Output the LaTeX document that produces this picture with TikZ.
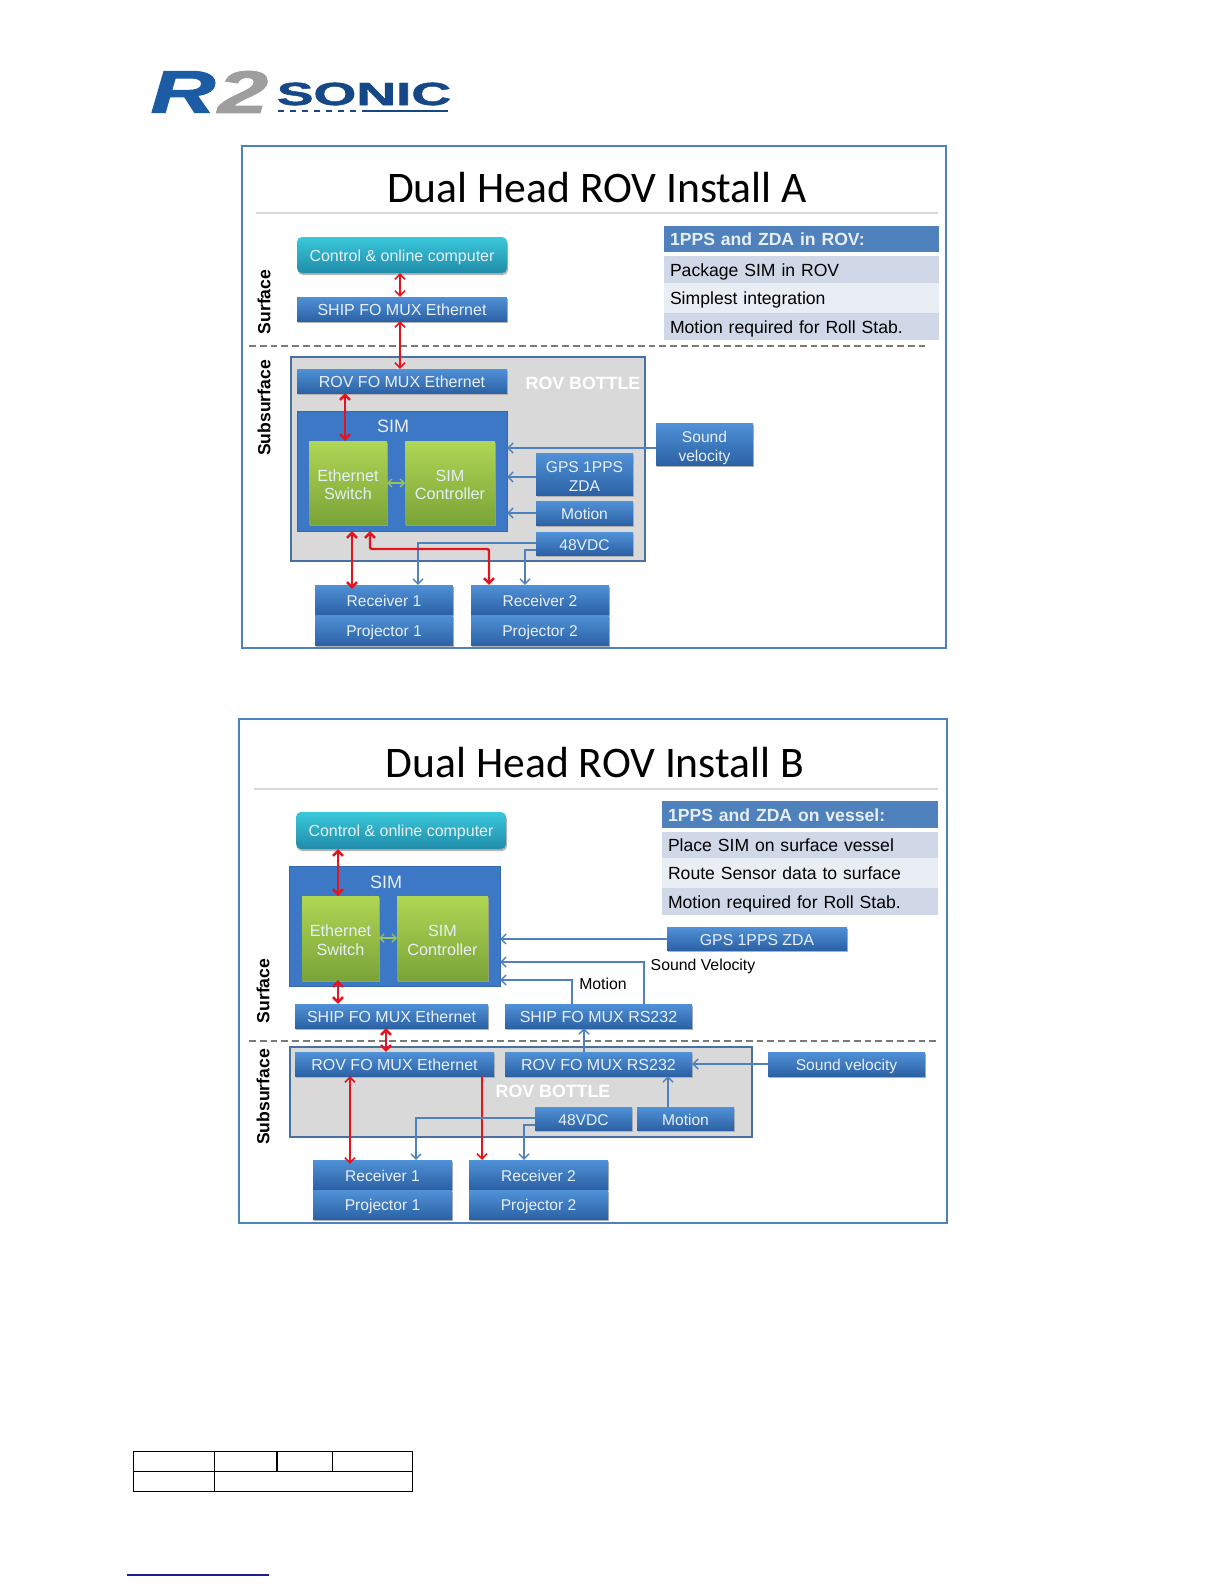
\documentclass[tikz,border=0pt]{standalone}
\usepackage{fontspec}
\setmainfont{Liberation Sans}
\newfontfamily\titlefont{Carlito}
\usetikzlibrary{calc, arrows.meta, shadows}
\definecolor{redline}{HTML}{E5141C}
\definecolor{blueline}{HTML}{4F81BD}
\definecolor{greenline}{HTML}{9CC25A}
\definecolor{hdrblue}{HTML}{4F81BD}
\definecolor{rowdark}{HTML}{D0D8E8}
\definecolor{rowlight}{HTML}{E9EDF4}
\definecolor{boxtext}{HTML}{E8EEF8}
\definecolor{blutop}{HTML}{5091D7}
\definecolor{blumid}{HTML}{3A76BE}
\definecolor{blubot}{HTML}{2C62A5}
\definecolor{tealtop}{HTML}{3AC8DA}
\definecolor{tealbot}{HTML}{208CAA}
\definecolor{grntop}{HTML}{B0D654}
\definecolor{grnbot}{HTML}{7AA438}
\definecolor{simfill}{HTML}{3C78C6}
\definecolor{simedge}{HTML}{3568AE}
\definecolor{botedge}{HTML}{4870A0}
\definecolor{logoblue}{HTML}{1C5CA5}
\definecolor{logonavy}{HTML}{164887}
\definecolor{footblue}{HTML}{1E1E96}
\newcommand{\boxstrut}{\rule[-1.6pt]{0pt}{9.7pt}}
\newcommand{\lowstrut}{\rule[-1.6pt]{0pt}{1.6pt}}
\newcommand{\twostrut}{\rule{0pt}{9.6pt}}
\newcommand{\rowstrut}{\rule[-2.2pt]{0pt}{11.2pt}}

\begin{document}
\begin{tikzpicture}[x=0.5pt, y=-0.5pt, inner sep=0pt, outer sep=0pt,
  strutted/.style={execute at begin node=\boxstrut, execute at end node=\lowstrut},
  blubox/.style={top color=blutop, middle color=blumid, bottom color=blubot, strutted,
    general shadow={fill=black!30, shadow xshift=0.5pt, shadow yshift=-1pt},
    text=boxtext, align=center},
  tealbox/.style={rounded corners=2.5pt, top color=tealtop, bottom color=tealbot, strutted,
    general shadow={fill=black!30, shadow xshift=0.5pt, shadow yshift=-1pt},
    text=boxtext, font=\fontsize{8}{9.4}\selectfont},
  grnbox/.style={top color=grntop, bottom color=grnbot, strutted,
    general shadow={fill=black!40, shadow xshift=0.6pt, shadow yshift=-0.8pt},
    text=boxtext, font=\fontsize{8.1}{9.4}\selectfont, align=center},
  simbox/.style={fill=simfill, draw=simedge, line width=0.5pt},
  bottle/.style={fill=black!15, draw=botedge, line width=0.7pt},
  frame/.style={draw=blueline, line width=0.6pt},
  rulegray/.style={draw=black!15, line width=0.7pt},
  sealine/.style={draw=black!52, line width=0.7pt, dash pattern=on 3.4pt off 2pt},
  sidelabel/.style={rotate=90, font=\fontsize{8.8}{10}\bfseries\selectfont, text=black},
  bottlelabel/.style={font=\fontsize{8.9}{10}\bfseries\selectfont, text=white},
  titletext/.style={font=\titlefont\fontsize{21.8}{24}\selectfont, text=black},
  blacktext/.style={strutted, font=\fontsize{7.9}{9.4}\selectfont, text=black},
  tabrow/.style={text=black, font=\fontsize{8.8}{10}\selectfont, align=left,
    execute at begin node=\rowstrut},
  redarr/.style={draw=redline, line width=0.8pt, {Straight Barb[length=2.6pt,width=5pt]}-{Straight Barb[length=2.6pt,width=5pt]}},
  redfat/.style={redarr, line width=1.2pt},
  redone/.style={draw=redline, line width=0.8pt, -{Straight Barb[length=2.6pt,width=5pt]}},
  bluarr/.style={draw=blueline, line width=0.7pt, -{Straight Barb[length=2.6pt,width=5pt]}},
  grnarr/.style={draw=greenline, line width=0.7pt, {Straight Barb[length=2pt,width=4pt]}-{Straight Barb[length=2pt,width=4pt]}},
  logotext/.style={font=\fontsize{#1}{#1}\bfseries\addfontfeatures{FakeBold=1.5}},
]
  \useasboundingbox (0,0) rectangle (1224,1584);
  \fill[white] (0,0) rectangle (1224,1584);

  % logo
  \node[text=logoblue, logotext=30] (logoR) at (183,92) {\scalebox{1.5}[1]{\itshape R}};
  \node[text=black!38, logotext=30] (logoT) at (243,92) {\scalebox{1.5}[1]{\itshape 2}};
  \node[text=logonavy, logotext=16] (logoS) at (364,94) {\scalebox{1.72}[1]{SONIC}};
  \coordinate (logoA) at (278,111);
  \coordinate (logoB) at (363,111);
  \coordinate (logoC) at (448,111);
  \draw[logonavy, line width=0.6pt, dash pattern=on 3pt off 3pt] (logoA) -- (logoB);
  \draw[logonavy, line width=0.8pt] (logoB) -- (logoC);

  % panel A
  \draw[frame] (242,146) rectangle (946,648);
  \node[titletext] (titleA) at (597,188) {Dual Head ROV Install A};
  \coordinate (ruleAl) at (256,213);
  \coordinate (ruleAr) at (938,213);
  \draw[rulegray] (ruleAl) -- (ruleAr);
  \coordinate (seaAl) at (249,346);
  \coordinate (seaAr) at (928,346);
  \draw[sealine] (seaAl) -- (seaAr);
  \node[sidelabel] (surfA) at (264,302) {Surface};
  \node[sidelabel] (subsA) at (264,408) {Subsurface};
  \draw[bottle] (291,357) rectangle (645,561);
  \node[bottlelabel] (bottleA) at (583,383) {ROV BOTTLE};
  \node[simbox, minimum width=105pt, minimum height=60pt] (simA) at (402,471) {};
  \node[text=boxtext, font=\fontsize{9}{10}\selectfont] (simtxtA) at (393,426) {SIM};

  % panel B
  \draw[frame] (239,719) rectangle (947,1223);
  \node[titletext] (titleB) at (595,763) {Dual Head ROV Install B};
  \coordinate (ruleBl) at (254,789);
  \coordinate (ruleBr) at (938,789);
  \draw[rulegray] (ruleBl) -- (ruleBr);
  \coordinate (seaBl) at (249,1041);
  \coordinate (seaBr) at (938,1041);
  \node[sidelabel] (surfB) at (263,991) {Surface};
  \node[sidelabel] (subsB) at (263,1097) {Subsurface};
  \draw[bottle] (290,1047) rectangle (752,1137);
  \draw[sealine] (seaBl) -- (seaBr);
  \node[bottlelabel] (bottleB) at (553,1091) {ROV BOTTLE};
  \node[simbox, minimum width=105.5pt, minimum height=60pt] (simB) at (394.5,926) {};
  \node[text=boxtext, font=\fontsize{9}{10}\selectfont] (simtxtB) at (386,882) {SIM};

  % blue boxes: name / left / top / right / bottom / size / text
  \foreach \nm/\xa/\ya/\xb/\yb/\fs/\txt in {
    shipA/297/297/507/321/8/{SHIP FO MUX Ethernet},
    rovA/297/369/507/393/8/{ROV FO MUX Ethernet},
    gpsA/536/453/633/495/7.8/{\twostrut GPS 1PPS\\ZDA},
    motA/536/501/633/525/7.8/{Motion},
    vdcA/536/532/633/555/7.8/{48VDC},
    soundA/656/423/753/465/7.8/{\twostrut Sound\\velocity},
    rcvAa/315/585/453/614/7.8/{Receiver 1},
    prjAa/315/615/453/645/7.8/{Projector 1},
    rcvAb/471/585/609/614/7.8/{Receiver 2},
    prjAb/471/615/609/645/7.8/{Projector 2},
    shipB/295/1004/488/1028/8/{SHIP FO MUX Ethernet},
    shipserB/505/1004/692/1028/8/{SHIP FO MUX RS232},
    rovB/295/1052/494/1076/8/{ROV FO MUX Ethernet},
    rovserB/505/1052/692/1076/8/{ROV FO MUX RS232},
    vdcB/535/1107/632/1130/7.8/{48VDC},
    motB/637/1107/734/1130/7.8/{Motion},
    soundB/768/1052/925/1076/7.8/{Sound velocity},
    gpsB/667/927/847/950/7.9/{GPS 1PPS ZDA},
    rcvBa/313/1160/452/1189/7.8/{Receiver 1},
    prjBa/313/1190/452/1219/7.8/{Projector 1},
    rcvBb/469/1160/608/1189/7.8/{Receiver 2},
    prjBb/469/1190/608/1219/7.8/{Projector 2}}
    \node[blubox, font=\fontsize{\fs}{9.4}\selectfont, minimum width={(\xb-\xa)*0.5pt}, minimum height={(\yb-\ya)*0.5pt}] (\nm) at ({(\xa+\xb)/2},{(\ya+\yb)/2}) {\txt};

  \node[tealbox, minimum width=105pt, minimum height=18pt] (ctlA) at (402,255) {Control \& online computer};
  \node[tealbox, minimum width=105pt, minimum height=18.5pt] (ctlB) at (401,830.5) {Control \& online computer};

  \foreach \nm/\xa/\xb/\ya/\yb/\txt in {
    ethA/309/387/441/524/{\twostrut Ethernet\\Switch},
    conA/405/495/441/524/{\twostrut SIM\\Controller},
    ethB/302/379/896/980/{\twostrut Ethernet\\Switch},
    conB/397/488/896/980/{\twostrut SIM\\Controller}}
    \node[grnbox, minimum width={(\xb-\xa)*0.5pt}, minimum height={(\yb-\ya)*0.5pt}] (\nm) at ({(\xa+\xb)/2},{(\ya+\yb)/2}) {\txt};

  % bullet tables
  \foreach \nm/\xa/\ya/\xb/\yb/\col/\txt in {
    hdrA/664/226/939/252/hdrblue/{\textcolor{boxtext}{\bfseries 1PPS and ZDA in ROV:}},
    rowAa/664/256/939/283/rowdark/{Package SIM in ROV},
    rowAb/664/283/939/313/rowlight/{Simplest integration},
    rowAc/664/313/939/340/rowdark/{Motion required for Roll Stab.},
    hdrB/662/801/938/828/hdrblue/{\textcolor{boxtext}{\bfseries 1PPS and ZDA on vessel:}},
    rowBa/662/832/938/858/rowdark/{Place SIM on surface vessel},
    rowBb/662/858/938/888/rowlight/{Route Sensor data to surface},
    rowBc/662/888/938/915/rowdark/{Motion required for Roll Stab.}}
    \node[tabrow, fill=\col, text width={(\xb-\xa)*0.5pt-6pt}, inner xsep=3pt, minimum height={(\yb-\ya)*0.5pt}] (\nm) at ({(\xa+\xb)/2},{(\ya+\yb)/2}) {\txt};

  \node[blacktext] (lblmot) at (603,983) {Motion};
  \node[blacktext] (lblsnd) at (703,964) {Sound Velocity};

  % connectors A
  \draw[redarr] (ctlA.south -| 400,0) -- (shipA.north -| 400,0);
  \draw[redarr] (shipA.south -| 400,0) -- (rovA.north -| 400,0);
  \draw[redfat] (rovA.south -| 345,0) -- (ethA.north -| 345,0);
  \draw[grnarr] (ethA.east |- 0,483) -- (conA.west |- 0,483);
  \draw[bluarr] (soundA.west |- 0,448) -- (simA.east |- 0,448);
  \draw[bluarr] (gpsA.west |- 0,477) -- (simA.east |- 0,477);
  \draw[bluarr] (motA.west) -- (simA.east |- motA.west);
  \draw[bluarr] (vdcA.west |- 0,543) -| (rcvAa.north -| 418,0);
  \draw[bluarr] (vdcA.west |- 0,550) -| (rcvAb.north -| 525,0);
  \draw[redfat, shorten >=-2pt] (simA.south -| 352,0) -- (rcvAa.north -| 352,0);
  \draw[redfat, rounded corners=1pt] (simA.south -| 370,0) |- (489,549) -- (rcvAb.north -| 489,0);

  % connectors B
  \draw[redfat] (ctlB.south -| 338,0) -- (ethB.north -| 338,0);
  \draw[redfat] (ethB.south -| 338,0) -- (shipB.north -| 338,0);
  \draw[redfat] (shipB.south -| 386,0) -- (rovB.north -| 386,0);
  \draw[redarr, shorten >=-2pt] (rovB.south -| 350,0) -- (rcvBa.north -| 350,0);
  \draw[redone] (rovB.south -| 482,0) -- (rcvBb.north -| 482,0);
  \draw[grnarr] (ethB.east |- 0,938) -- (conB.west |- 0,938);
  \draw[bluarr] (gpsB.west |- 0,939) -- (simB.east |- 0,939);
  \draw[bluarr] (shipserB.north -| 644,0) |- (simB.east |- 0,962);
  \draw[bluarr] (shipserB.north -| 572,0) |- (simB.east |- 0,980);
  \draw[bluarr] (rovserB.north -| 584,0) -- (shipserB.south -| 584,0);
  \draw[bluarr] (soundB.west) -- (rovserB.east);
  \draw[bluarr] (motB.north -| 668,0) -- (rovserB.south -| 668,0);
  \draw[bluarr] (vdcB.west |- 0,1118) -| (rcvBa.north -| 416,0);
  \draw[bluarr] (vdcB.west |- 0,1125) -| (rcvBb.north -| 524,0);

  % empty table at the foot of the page
  \draw[black, line width=0.5pt] (133,1451) rectangle (412,1491);
  \draw[black, line width=0.5pt] (133,1471) -- (412,1471);
  \draw[black, line width=0.5pt] (214,1451) -- (214,1491);
  \draw[black, line width=0.9pt] (277,1451) -- (277,1471);
  \draw[black, line width=0.5pt] (332,1451) -- (332,1471);
  \draw[footblue, line width=0.6pt] (127,1575) -- (269,1575);
\end{tikzpicture}
\end{document}
